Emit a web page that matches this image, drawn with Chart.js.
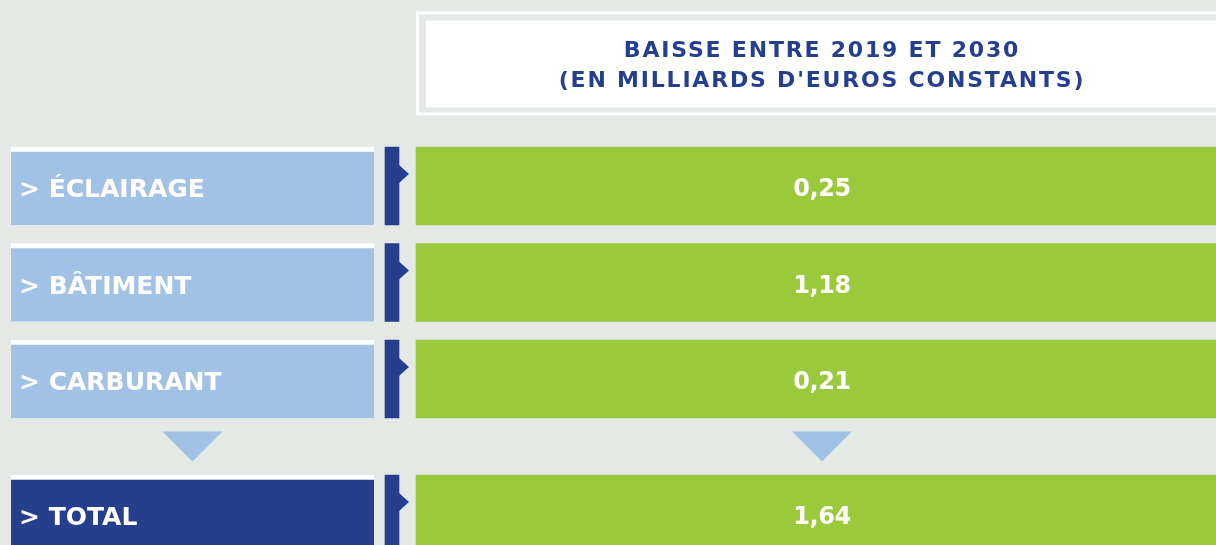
<!DOCTYPE html>
<html lang="fr">
<head>
  <meta charset="UTF-8" />
  <title>Baisse entre 2019 et 2030</title>
  <script src="https://cdn.jsdelivr.net/npm/chart.js"></script>
  <style>
    html, body { margin: 0; padding: 0; background: #e4e9e5; }
    #wrap { width: 1216px; height: 545px; position: relative; }
  </style>
</head>
<body>
  <div id="wrap"><canvas id="tableChart"></canvas></div>

  <script>
    // données
    const categories = ["ÉCLAIRAGE", "BÂTIMENT", "CARBURANT", "TOTAL"];
    const values = [0.25, 1.18, 0.21, 1.64];
    const titleLines = ["BAISSE ENTRE 2019 ET 2030", "(EN MILLIARDS D'EUROS CONSTANTS)"];

    // mise en page (unités des axes)
    const rowPos = [0, 1, 2, 3.4];
    const headerPos = -1.27;
    const arrowPos = 2.7;
    const labelCol = [11, 374];
    const markerCol = [385, 399];
    const valueCol = [416, 1228];

    const lightBlue = "#a2c2e5";
    const darkBlue = "#253f8e";
    const green = "#9aca3c";
    const bg = "#e4e9e5";
    const last = categories.length - 1;
    const family = "'DejaVu Sans', sans-serif";

    const fmt = v => v.toFixed(2).replace(".", ",");

    const tablePlugin = {
      id: "table",
      beforeDatasetsDraw(chart) {
        const ctx = chart.ctx;
        const xs = chart.scales.x, ys = chart.scales.y;
        const x0 = xs.getPixelForValue(valueCol[0]);
        const x1 = xs.getPixelForValue(valueCol[1]);
        const cy = ys.getPixelForValue(headerPos);
        ctx.save();
        // cadre du titre
        ctx.fillStyle = "#ffffff";
        ctx.fillRect(x0, cy - 52, x1 - x0, 104);
        ctx.fillStyle = bg;
        ctx.fillRect(x0 + 3, cy - 49, x1 - x0 - 6, 98);
        ctx.fillStyle = "#ffffff";
        ctx.fillRect(x0 + 10, cy - 43, x1 - x0 - 20, 87);
        // titre
        ctx.fillStyle = "#253f8f";
        ctx.font = "bold 22px " + family;
        ctx.letterSpacing = "1.8px";
        ctx.textAlign = "center";
        ctx.textBaseline = "alphabetic";
        const tx = (x0 + x1) / 2;
        ctx.fillText(titleLines[0], tx, cy - 6);
        ctx.fillText(titleLines[1], tx, cy + 24);
        // flèches vers le total
        const ty = ys.getPixelForValue(arrowPos);
        ctx.fillStyle = lightBlue;
        [labelCol, valueCol].forEach(col => {
          const cx = (xs.getPixelForValue(col[0]) + xs.getPixelForValue(col[1])) / 2;
          ctx.beginPath();
          ctx.moveTo(cx - 30, ty - 15);
          ctx.lineTo(cx + 30, ty - 15);
          ctx.lineTo(cx, ty + 15);
          ctx.closePath();
          ctx.fill();
        });
        ctx.restore();
      },
      afterDatasetsDraw(chart) {
        const ctx = chart.ctx;
        ctx.save();
        // pointes des marqueurs
        chart.getDatasetMeta(1).data.forEach(el => {
          const p = el.getProps(["x", "y", "height"], true);
          const top = p.y - p.height / 2;
          ctx.fillStyle = darkBlue;
          ctx.beginPath();
          ctx.moveTo(p.x, top + 18);
          ctx.lineTo(p.x + 10, top + 27);
          ctx.lineTo(p.x, top + 36);
          ctx.closePath();
          ctx.fill();
        });
        ctx.fillStyle = "#ffffff";
        ctx.textBaseline = "alphabetic";
        // libellés
        ctx.font = "bold 25px " + family;
        ctx.textAlign = "left";
        ctx.letterSpacing = "0px";
        chart.getDatasetMeta(0).data.forEach((el, i) => {
          const p = el.getProps(["y", "base"], true);
          ctx.fillText("> " + categories[i], p.base + 8, p.y + 11);
        });
        // valeurs
        ctx.font = "bold 24px " + family;
        ctx.textAlign = "center";
        ctx.letterSpacing = "-0.4px";
        chart.getDatasetMeta(2).data.forEach((el, i) => {
          const p = el.getProps(["x", "y", "base"], true);
          ctx.fillText(fmt(values[i]), (p.x + p.base) / 2, p.y + 10);
        });
        ctx.restore();
      }
    };

    new Chart(document.getElementById("tableChart"), {
      type: "bar",
      data: {
        datasets: [
          {
            label: "Poste",
            data: rowPos.map(p => ({ x: labelCol, y: p })),
            backgroundColor: categories.map((c, i) => i === last ? darkBlue : lightBlue),
            borderColor: "#ffffff",
            borderWidth: { top: 5, left: 0, right: 0, bottom: 0 },
            borderSkipped: false
          },
          {
            label: "Marqueur",
            data: rowPos.map(p => ({ x: markerCol, y: p })),
            backgroundColor: darkBlue
          },
          {
            label: "Baisse (Md€)",
            data: rowPos.map(p => ({ x: valueCol, y: p })),
            backgroundColor: green
          }
        ]
      },
      options: {
        indexAxis: "y",
        responsive: true,
        maintainAspectRatio: false,
        animation: false,
        grouped: false,
        barThickness: 78,
        layout: { padding: 0 },
        plugins: { legend: { display: false }, tooltip: { enabled: false } },
        scales: {
          x: { type: "linear", min: 0, max: 1216, offset: false, display: false },
          y: { type: "linear", min: -1.9275, max: 3.72, reverse: true, offset: false, display: false }
        }
      },
      plugins: [tablePlugin]
    });
  </script>
</body>
</html>
